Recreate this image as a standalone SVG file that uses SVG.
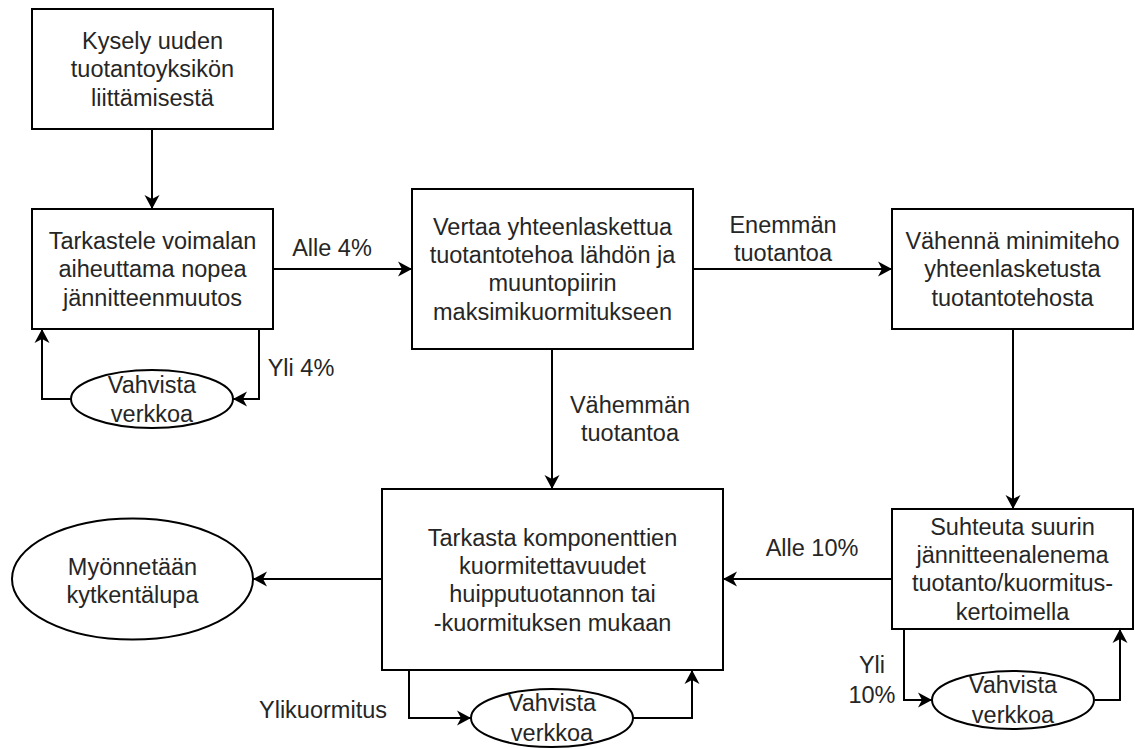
<svg xmlns="http://www.w3.org/2000/svg" width="1135" height="749" viewBox="0 0 1135 749">
  <defs>
    <style>
      .shape { fill: #ffffff; stroke: #000000; stroke-width: 2; }
      .edge { fill: none; stroke: #000000; stroke-width: 2; }
      text { font-family: "Liberation Sans", Arial, sans-serif; font-size: 23.5px; fill: #262626; text-anchor: middle; }
    </style>
    <marker id="arrow" markerUnits="userSpaceOnUse" viewBox="-15 -8 16 16" markerWidth="16" markerHeight="16" refX="0" refY="0" orient="auto" overflow="visible">
      <path d="M0,0 L-14,-7.5 L-10,0 L-14,7.5 Z" fill="#000000"/>
    </marker>
  </defs>
  <rect width="1135" height="749" fill="#ffffff"/>

  <!-- connectors -->
  <g id="connectors">
    <path class="edge" d="M152,129 L152,209" marker-end="url(#arrow)"/>
    <path class="edge" d="M273,269 L412,269" marker-end="url(#arrow)"/>
    <path class="edge" d="M259,329 L259,399 L233,399" marker-end="url(#arrow)"/>
    <path class="edge" d="M71,399 L42,399 L42,329" marker-end="url(#arrow)"/>
    <path class="edge" d="M693,269 L892,269" marker-end="url(#arrow)"/>
    <path class="edge" d="M552,349 L552,489" marker-end="url(#arrow)"/>
    <path class="edge" d="M1013,329 L1013,509" marker-end="url(#arrow)"/>
    <path class="edge" d="M892,579 L723,579" marker-end="url(#arrow)"/>
    <path class="edge" d="M382,579 L253,579" marker-end="url(#arrow)"/>
    <path class="edge" d="M409,670 L409,718 L471,718" marker-end="url(#arrow)"/>
    <path class="edge" d="M633,718 L692,718 L692,670" marker-end="url(#arrow)"/>
    <path class="edge" d="M904,629 L904,700 L932,700" marker-end="url(#arrow)"/>
    <path class="edge" d="M1095,700 L1120,700 L1120,629" marker-end="url(#arrow)"/>
    <!-- edge labels -->
    <text x="332" y="256">Alle 4%</text>
    <text x="301" y="376">Yli 4%</text>
    <text x="783" y="233">Enemmän</text>
    <text x="783" y="261">tuotantoa</text>
    <text x="630" y="413">Vähemmän</text>
    <text x="630" y="441">tuotantoa</text>
    <text x="812" y="556">Alle 10%</text>
    <text x="323" y="718">Ylikuormitus</text>
    <text x="872" y="673">Yli</text>
    <text x="872" y="703">10%</text>
  </g>

  <g id="kysely">
    <rect class="shape" x="32" y="9" width="241" height="120"/>
    <text x="152.5" y="49">Kysely uuden</text>
    <text x="152.5" y="77">tuotantoyksikön</text>
    <text x="152.5" y="105.5">liittämisestä</text>
  </g>

  <g id="tarkastele">
    <rect class="shape" x="32" y="209" width="241" height="120"/>
    <text x="152.5" y="249">Tarkastele voimalan</text>
    <text x="152.5" y="277">aiheuttama nopea</text>
    <text x="152.5" y="305.5">jännitteenmuutos</text>
  </g>

  <g id="vahvista-1">
    <ellipse class="shape" cx="152" cy="399" rx="81" ry="29"/>
    <text x="152" y="393">Vahvista</text>
    <text x="152" y="422">verkkoa</text>
  </g>

  <g id="vertaa">
    <rect class="shape" x="412" y="189" width="281" height="160"/>
    <text x="552.5" y="234.7">Vertaa yhteenlaskettua</text>
    <text x="552.5" y="263">tuotantotehoa lähdön ja</text>
    <text x="552.5" y="291.4">muuntopiirin</text>
    <text x="552.5" y="319.7">maksimikuormitukseen</text>
  </g>

  <g id="vahenna">
    <rect class="shape" x="892" y="209" width="241" height="120"/>
    <text x="1012.5" y="249">Vähennä minimiteho</text>
    <text x="1012.5" y="277">yhteenlasketusta</text>
    <text x="1012.5" y="305.5">tuotantotehosta</text>
  </g>

  <g id="suhteuta">
    <rect class="shape" x="892" y="509" width="241" height="120"/>
    <text x="1012.5" y="534.7">Suhteuta suurin</text>
    <text x="1012.5" y="563">jännitteenalenema</text>
    <text x="1012.5" y="591.4">tuotanto/kuormitus-</text>
    <text x="1012.5" y="619.7">kertoimella</text>
  </g>

  <g id="vahvista-3">
    <ellipse class="shape" cx="1013" cy="700" rx="81" ry="29"/>
    <text x="1013" y="693">Vahvista</text>
    <text x="1013" y="723">verkkoa</text>
  </g>

  <g id="tarkasta">
    <rect class="shape" x="382" y="489" width="341" height="181"/>
    <text x="552.5" y="545.7">Tarkasta komponenttien</text>
    <text x="552.5" y="574">kuormitettavuudet</text>
    <text x="552.5" y="602.4">huipputuotannon tai</text>
    <text x="552.5" y="630.7">-kuormituksen mukaan</text>
  </g>

  <g id="vahvista-2">
    <ellipse class="shape" cx="552" cy="718" rx="81" ry="29"/>
    <text x="552" y="711">Vahvista</text>
    <text x="552" y="741">verkkoa</text>
  </g>

  <g id="myonnetaan">
    <ellipse class="shape" cx="132.5" cy="579" rx="120.5" ry="60.5"/>
    <text x="132.5" y="575.2">Myönnetään</text>
    <text x="132.5" y="603.2">kytkentälupa</text>
  </g>
</svg>
